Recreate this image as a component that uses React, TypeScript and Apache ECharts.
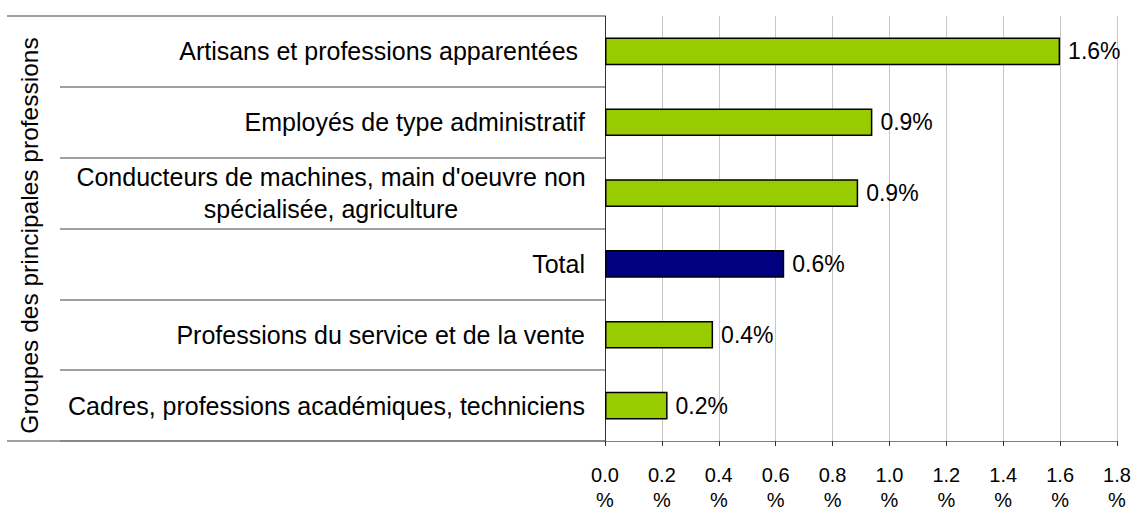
import React, { useEffect, useRef } from "react";
import * as echarts from "echarts";

const categories = [
  "Artisans et professions apparentées ",
  "Employés de type administratif",
  "Conducteurs de machines, main d'oeuvre non\nspécialisée, agriculture",
  "Total",
  "Professions du service et de la vente",
  "Cadres, professions académiques, techniciens",
];
const values = [1.6, 0.94, 0.89, 0.63, 0.38, 0.22];
const barColors = ["#99CC00", "#99CC00", "#99CC00", "#000080", "#99CC00", "#99CC00"];
const xTicks = [0, 0.2, 0.4, 0.6, 0.8, 1.0, 1.2, 1.4, 1.6, 1.8];
const axisTitle = "Groupes des principales professions";

const FONT = "'Liberation Sans', Arial, sans-serif";

export default function App() {
  const ref = useRef<HTMLDivElement>(null);
  useEffect(() => {
    if (!ref.current) return;
    const chart = echarts.init(ref.current, undefined, { renderer: "svg" });
    chart.setOption({
      animation: false,
      backgroundColor: "#ffffff",
      textStyle: { fontFamily: FONT },
      grid: {
        left: 605,
        right: 17,
        top: 16,
        bottom: 68,
        containLabel: false,
        outerBoundsMode: "none",
      },
      xAxis: {
        type: "value",
        min: xTicks[0],
        max: xTicks[xTicks.length - 1],
        interval: 0.2,
        axisLine: { show: true, lineStyle: { color: "#808080", width: 1 } },
        axisTick: { show: true, length: 5, lineStyle: { color: "#333" } },
        splitLine: { show: true, lineStyle: { color: "#c8c8c8", width: 1 } },
        axisLabel: {
          fontFamily: FONT,
          fontSize: 20,
          color: "#000",
          margin: 21,
          lineHeight: 25,
          formatter: (v: number) => `${v.toFixed(1)}\n%`,
        },
      },
      yAxis: {
        type: "category",
        data: categories,
        inverse: true,
        name: axisTitle,
        nameLocation: "middle",
        nameRotate: 90,
        nameGap: 563,
        nameTextStyle: {
          fontFamily: FONT,
          fontSize: 24.5,
          color: "#000",
          padding: [0, 14, 0, 0],
        },
        axisLine: { show: true, lineStyle: { color: "#333", width: 1 } },
        axisTick: { show: true, length: 545, lineStyle: { color: "#808080", width: 1.5 } },
        splitLine: { show: false },
        axisLabel: {
          fontFamily: FONT,
          fontSize: 25,
          color: "#000",
          margin: 20,
          lineHeight: 32,
          formatter: (v: string) => {
            const parts = v.split("\n");
            if (parts.length === 1) return v;
            return parts.map((p) => `{c|${p}}`).join("\n");
          },
          rich: {
            c: { width: 508, align: "center", fontSize: 25, fontFamily: FONT, lineHeight: 32 },
          },
        },
      },
      series: [
        {
          type: "bar",
          data: values.map((v, i) => ({
            value: v,
            itemStyle: { color: barColors[i] },
          })),
          barCategoryGap: "61%",
          itemStyle: { borderColor: "#000", borderWidth: 1.5 },
          label: {
            show: true,
            position: "right",
            distance: 8,
            fontFamily: FONT,
            fontSize: 23,
            color: "#000",
            formatter: (p: any) => `${Number(p.value).toFixed(1)}%`,
          },
        },
      ],
      graphic: [
        { type: "line", shape: { x1: 7, y1: 16, x2: 60, y2: 16 }, style: { stroke: "#808080", lineWidth: 1.5 } },
        { type: "line", shape: { x1: 7, y1: 441, x2: 605, y2: 441 }, style: { stroke: "#808080", lineWidth: 1.5 } },
      ],
    });
    return () => chart.dispose();
  }, []);
  return (
    <div
      ref={ref}
      style={{ position: "absolute", left: 0, top: 0, width: 1134, height: 509 }}
    />
  );
}
